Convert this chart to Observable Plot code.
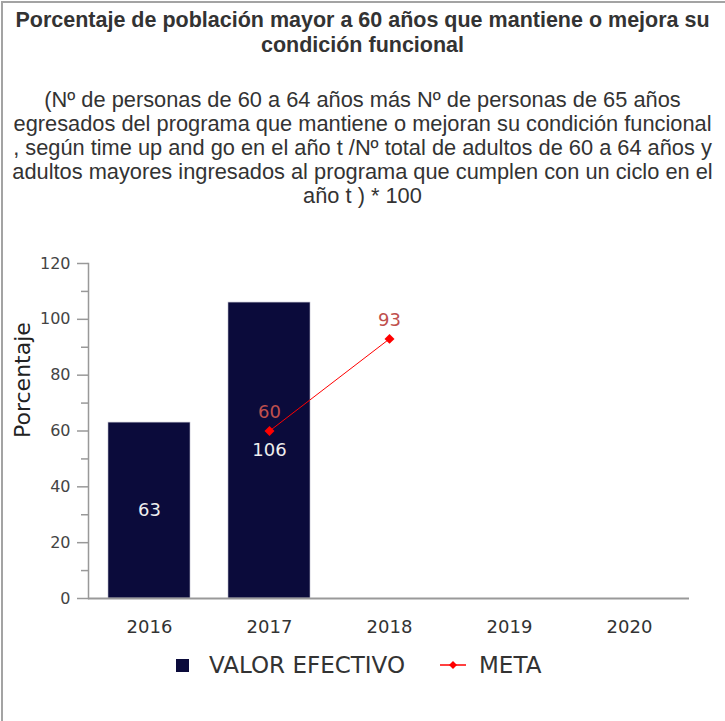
<!DOCTYPE html>
<html>
<head>
<meta charset="utf-8">
<script src="https://cdn.jsdelivr.net/npm/d3@7"></script>
<script src="https://cdn.jsdelivr.net/npm/@observablehq/plot@0.6"></script>
<style>
  html, body { margin: 0; padding: 0; background: #fff; }
  body { width: 725px; height: 721px; position: relative; overflow: hidden; }
  .frame { position: absolute; left: 1px; top: 1px; width: 760px; height: 760px;
           border-left: 2px solid #a3a3a3; border-top: 2px solid #a3a3a3; }
  .title { position: absolute; left: 0; top: 8px; width: 725px; text-align: center;
           font: bold 21.5px "Liberation Sans", Arial, sans-serif; line-height: 25px; color: #333; white-space: nowrap; }
  .subtitle { position: absolute; left: 0; top: 88px; width: 725px; text-align: center;
           font: 21.8px "Liberation Sans", Arial, sans-serif; line-height: 24px; color: #333; white-space: nowrap; }
  #chart { position: absolute; left: 0; top: 230px; }
  .legend { position: absolute; top: 651px; left: 0; width: 725px; height: 28px;
            font: 23px "DejaVu Sans", sans-serif; line-height: 28px; color: #333; }
  .legend .sw { position: absolute; left: 176px; top: 8px; width: 13px; height: 13px; background: #0b0b3b; }
  .legend .t1 { position: absolute; left: 209px; top: 0; }
  .legend .t2 { position: absolute; left: 479px; top: 0; }
  .legend svg { position: absolute; left: 438px; top: 6px; }
</style>
</head>
<body>
<div class="frame"></div>
<div class="title">Porcentaje de población mayor a 60 años que mantiene o mejora su<br>condición funcional</div>
<div class="subtitle">(Nº de personas de 60 a 64 años más Nº de personas de 65 años<br>egresados del programa que mantiene o mejoran su condición funcional<br>, según time up and go en el año t /Nº total de adultos de 60 a 64 años y<br>adultos mayores ingresados al programa que cumplen con un ciclo en el<br>año t ) * 100</div>
<div id="chart"></div>
<div class="legend">
  <div class="sw"></div><span class="t1">VALOR EFECTIVO</span>
  <svg width="30" height="16"><line x1="2" y1="8" x2="28" y2="8" stroke="#ff0000" stroke-width="1.5"/><path d="M15,4 L19,8 L15,12 L11,8 Z" fill="#ff0000"/></svg>
  <span class="t2">META</span>
</div>
<script>
const years = ["2016", "2017", "2018", "2019", "2020"];
const valorEfectivo = [63, 106, null, null, null];
const meta = [null, 60, 93, null, null];
const yTicks = [0, 20, 40, 60, 80, 100, 120];
const yMinorTicks = [10, 30, 50, 70, 90, 110];
const yLabel = "Porcentaje";

const bars = years.map((y, i) => ({year: y, value: valorEfectivo[i]})).filter(d => d.value != null);
const metaPts = years.map((y, i) => ({year: y, value: meta[i]})).filter(d => d.value != null);

const chart = Plot.plot({
  width: 725,
  height: 410,
  marginTop: 33,
  marginBottom: 42,
  marginLeft: 88,
  marginRight: 36,
  style: {fontFamily: "DejaVu Sans, sans-serif", fontSize: "16px", color: "#444", background: "transparent"},
  x: {domain: years, paddingInner: 0.32, paddingOuter: 0.16, label: null},
  y: {domain: [0, 120], label: null},
  marks: [
    Plot.barY(bars, {x: "year", y: "value", fill: "#0b0b3b", stroke: "#b8b8c8", strokeWidth: 0.6}),
    Plot.text(bars, {x: "year", y: d => d.value / 2, text: d => String(d.value), fill: "#eeeeee", fontSize: 18}),
    Plot.line(metaPts, {x: "year", y: "value", stroke: "#ff0000", strokeWidth: 1}),
    Plot.dot(metaPts, {x: "year", y: "value", symbol: "diamond2", r: 4.5, fill: "#ff0000", stroke: "none"}),
    Plot.text(metaPts, {x: "year", y: "value", text: d => String(d.value), dy: -19, fill: "#c0504d", fontSize: 18}),
    Plot.axisY({ticks: yTicks, tickSize: 11, tickPadding: 7, stroke: "#999", strokeWidth: 1.5, label: null, fill: "#444", fontSize: 16, tickFormat: d => String(d)}),
    Plot.axisY({ticks: yMinorTicks, tickSize: 7, stroke: "#999", strokeWidth: 1.5, label: null, tickFormat: () => ""}),
    Plot.axisX({tickSize: 0, tickPadding: 22, label: null, fill: "#333", fontSize: 18}),
    Plot.frame({anchor: "left", stroke: "#999", strokeWidth: 1.5}),
    Plot.ruleY([0], {stroke: "#999", strokeWidth: 2}),
    Plot.text([yLabel], {frameAnchor: "left", dx: -66, dy: 7, rotate: -90, fontSize: 22, fill: "#222"})
  ]
});
document.getElementById("chart").appendChild(chart);
</script>
</body>
</html>
